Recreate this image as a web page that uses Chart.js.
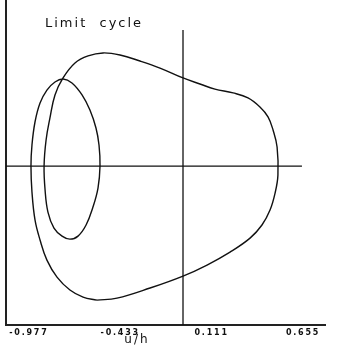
<!DOCTYPE html>
<html>
<head>
<meta charset="utf-8">
<script src="https://cdn.jsdelivr.net/npm/chart.js@4/dist/chart.umd.min.js"></script>
<style>
  html, body { margin: 0; padding: 0; background: #fff; }
  #c { display: block; }
</style>
</head>
<body>
<canvas id="c" width="337" height="346"></canvas>
<script>
// Closed phase-plane trajectory (period-2 limit cycle), u/h against v/h
const uValues = [
  -0.512, -0.393, -0.196, 0.000, 0.143, 0.280, 0.399, 0.470, 0.518, 0.548,
  0.565, 0.560, 0.536, 0.506, 0.458, 0.387, 0.298, 0.190, 0.101, 0.000,
  -0.137, -0.256, -0.375, -0.476, -0.565, -0.643, -0.714, -0.762, -0.792, -0.815,
  -0.827, -0.821, -0.804, -0.768, -0.720, -0.673, -0.625, -0.577, -0.536, -0.506,
  -0.494, -0.500, -0.518, -0.554, -0.601, -0.661, -0.714, -0.762, -0.810, -0.851,
  -0.881, -0.899, -0.905, -0.899, -0.881, -0.851, -0.810, -0.750, -0.673, -0.595,
  -0.512
];
const vValues = [
  -0.798, -0.786, -0.726, -0.655, -0.589, -0.512, -0.429, -0.351, -0.262, -0.161,
  -0.054, 0.113, 0.214, 0.292, 0.351, 0.405, 0.435, 0.458, 0.488, 0.524,
  0.583, 0.625, 0.661, 0.673, 0.655, 0.613, 0.524, 0.423, 0.286, 0.155,
  0.000, -0.143, -0.274, -0.369, -0.417, -0.435, -0.417, -0.351, -0.244, -0.131,
  0.000, 0.125, 0.226, 0.333, 0.423, 0.494, 0.518, 0.500, 0.452, 0.375,
  0.262, 0.125, 0.000, -0.155, -0.321, -0.440, -0.560, -0.661, -0.738, -0.780,
  -0.798
];

// Tick labels along the u/h axis
const uTicks = [-0.977, -0.433, 0.111, 0.655];

// Axis ranges
const uRange = [-1.0536, 0.8452];
const vRange = [-0.946, 0.988];

// Extent of the crosshair lines through the origin
const crossVTop = 0.81;
const crossURight = 0.708;

const cyclePoints = uValues.map((u, i) => ({ x: u, y: vValues[i] }));
const verticalLine = [{ x: 0, y: vRange[0] }, { x: 0, y: crossVTop }];
const horizontalLine = [{ x: uRange[0], y: 0 }, { x: crossURight, y: 0 }];

const textPlugin = {
  id: 'captions',
  beforeDraw(chart) {
    chart.ctx.letterSpacing = '1.8px';
  },
  afterDraw(chart) {
    const ctx = chart.ctx;
    ctx.save();
    ctx.fillStyle = '#111';
    ctx.letterSpacing = '2px';
    ctx.font = '13px "DejaVu Sans"';
    ctx.textAlign = 'left';
    ctx.textBaseline = 'alphabetic';
    ctx.fillText('Limit  cycle', 45, 27);
    ctx.letterSpacing = '2px';
    ctx.font = '12px "DejaVu Sans"';
    ctx.textAlign = 'center';
    ctx.fillText('u/h', 137, 343);
    ctx.restore();
    ctx.letterSpacing = '0px';
  }
};

new Chart(document.getElementById('c'), {
  type: 'scatter',
  data: {
    datasets: [
      {
        data: cyclePoints,
        showLine: true,
        tension: 0.4,
        borderColor: '#111',
        borderWidth: 1.4,
        pointRadius: 0,
        fill: false
      },
      {
        data: verticalLine,
        showLine: true,
        borderColor: '#111',
        borderWidth: 1.3,
        pointRadius: 0
      },
      {
        data: horizontalLine,
        showLine: true,
        borderColor: '#111',
        borderWidth: 1.3,
        pointRadius: 0
      }
    ]
  },
  options: {
    responsive: false,
    animation: false,
    devicePixelRatio: 1,
    layout: { padding: { left: 0, top: 0, bottom: 0, right: 12 } },
    plugins: {
      legend: { display: false },
      tooltip: { enabled: false },
      title: { display: false }
    },
    scales: {
      x: {
        type: 'linear',
        min: uRange[0],
        max: uRange[1],
        afterBuildTicks(scale) {
          scale.ticks = uTicks.map(v => ({ value: v }));
        },
        afterFit(scale) { scale.height = 21; },
        grid: { display: false, drawTicks: false },
        border: { display: true, color: '#222', width: 2 },
        ticks: {
          autoSkip: false,
          maxRotation: 0,
          padding: 3,
          labelOffset: 10,
          color: '#111',
          font: { family: 'DejaVu Sans', size: 8, weight: 'bold' },
          callback: v => String(v)
        }
      },
      y: {
        type: 'linear',
        min: vRange[0],
        max: vRange[1],
        afterFit(scale) { scale.width = 6; },
        grid: { display: false },
        border: { display: true, color: '#222', width: 2 },
        ticks: { display: false }
      }
    }
  },
  plugins: [textPlugin]
});
</script>
</body>
</html>
